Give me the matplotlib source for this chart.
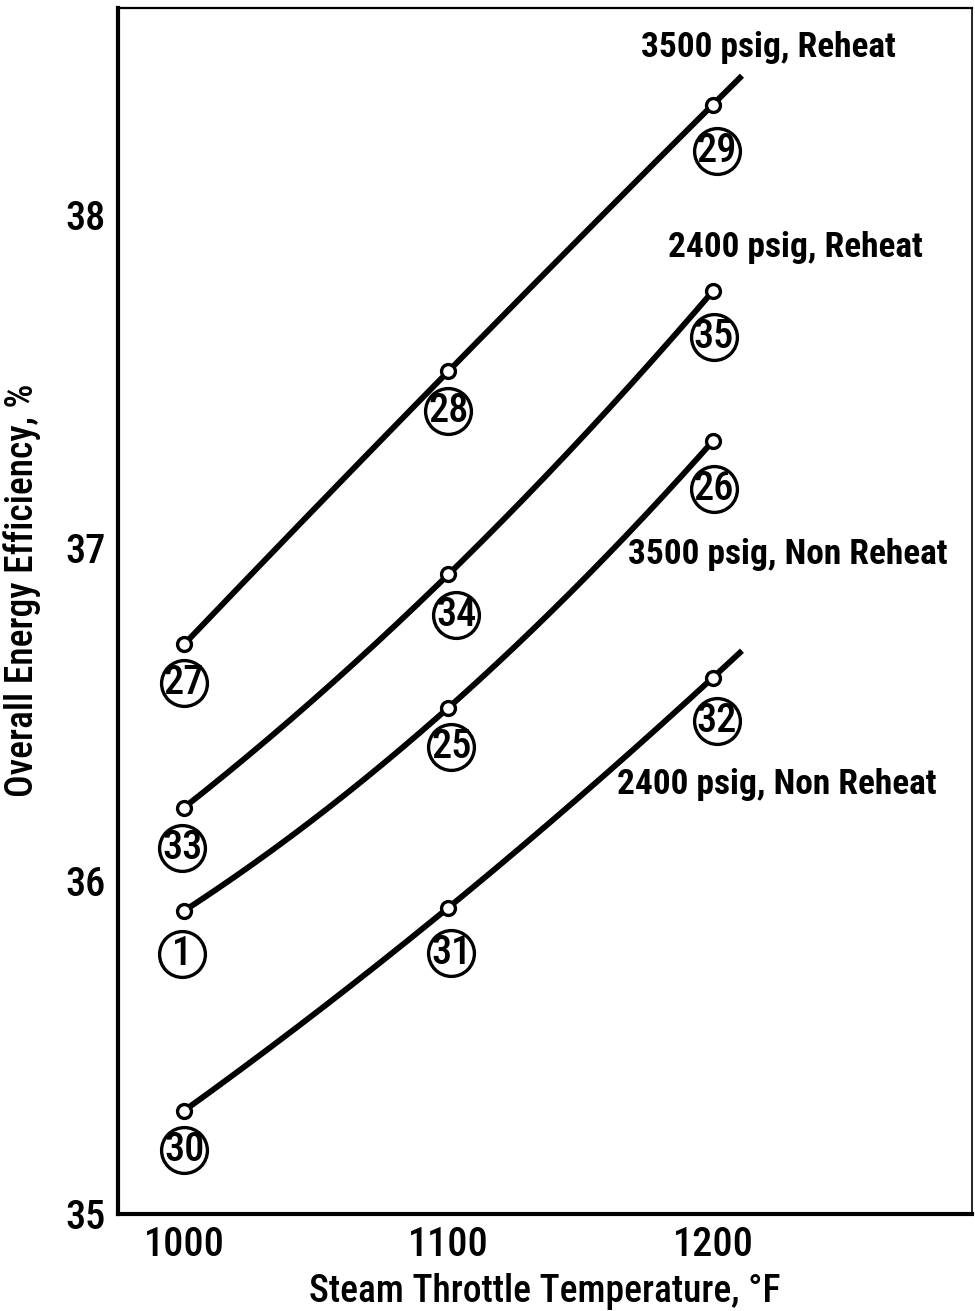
import matplotlib
matplotlib.use("Agg")
import matplotlib.pyplot as plt
from matplotlib import font_manager
from matplotlib.transforms import offset_copy
import numpy as np

# steam throttle temperature, F
temps = [1000, 1100, 1200]

# overall energy efficiency, %
eff_3500_rh = [36.71, 37.53, 38.33]
eff_2400_rh = [36.22, 36.92, 37.77]
eff_3500_nr = [35.91, 36.52, 37.32]
eff_2400_nr = [35.31, 35.92, 36.61]

# case numbers for each point
cases_3500_rh = ['27', '28', '29']
cases_2400_rh = ['33', '34', '35']
cases_3500_nr = ['1', '25', '26']
cases_2400_nr = ['30', '31', '32']

names = ['3500 psig, Reheat', '2400 psig, Reheat',
         '3500 psig, Non Reheat', '2400 psig, Non Reheat']

# how far each faired curve is carried past the last point
curve_end = [1211, 1200, 1200, 1211]

series = [eff_3500_rh, eff_2400_rh, eff_3500_nr, eff_2400_nr]
cases = [cases_3500_rh, cases_2400_rh, cases_3500_nr, cases_2400_nr]


def pick_font():
    # prefer a narrow face; plain DejaVu needs smaller sizes to fit
    for fam in ['Liberation Sans Narrow', 'DejaVu Sans Condensed', 'Roboto Condensed',
                'Open Sans Condensed', 'Noto Sans Condensed']:
        try:
            font_manager.findfont(fam, fallback_to_default=False)
            return fam, 1.0
        except ValueError:
            pass
    return 'DejaVu Sans', 0.8


family, k_size = pick_font()
plt.rcParams['font.family'] = [family, 'DejaVu Sans']

# label anchor (left edge, middle) for each curve name
name_pos = [(1172.8, 38.50), (1183.0, 37.90), (1167.9, 36.98), (1163.7, 36.29)]

# offsets (pixels) of the circled case numbers from their points
case_off = [[(0, -39), (0, -40), (4, -46)],
            [(-2, -40), (8, -41), (1, -46)],
            [(-2, -43), (3, -39), (1, -48)],
            [(0, -39), (3, -45), (4, -43)]]

fig = plt.figure(figsize=(9.75, 13.11), dpi=100)
ax = fig.add_axes([118 / 975, 1 - 1214 / 1311, (972 - 118) / 975, (1214 - 8) / 1311])

for i, y in enumerate(series):
    c = np.polyfit(temps, y, 2)
    xs = np.linspace(temps[0], curve_end[i], 200)
    ax.plot(xs, np.polyval(c, xs), color='black', lw=4.2, solid_capstyle='butt', zorder=2)
    ax.plot(temps, y, 'o', ms=10, mfc='white', mec='black', mew=2.4, zorder=3)
    for j, (t, v) in enumerate(zip(temps, y)):
        dx, dy = case_off[i][j]
        tr = offset_copy(ax.transData, fig=fig, x=dx, y=dy, units='dots')
        ax.plot([t], [v], 'o', ms=33, mfc='white', mec='black', mew=2.4,
                transform=tr, zorder=3)
        ax.text(t, v, cases[i][j], transform=tr, ha='center', va='center',
                fontsize=29 * k_size, fontweight='medium', zorder=4)
    ax.text(name_pos[i][0], name_pos[i][1], names[i], ha='left', va='center',
            fontsize=25.5 * k_size * (0.95 if k_size < 1 else 1), fontweight='semibold')

ax.set_xlim(975, 1298)
ax.set_ylim(35, 38.62)
ax.set_xticks(temps)
ax.set_yticks([35, 36, 37, 38])
ax.tick_params(length=0, labelsize=29 * k_size, pad=9)
for lab in ax.get_xticklabels() + ax.get_yticklabels():
    lab.set_fontweight('medium')

ax.spines['left'].set_linewidth(3.0)
ax.spines['bottom'].set_linewidth(3.0)
ax.spines['top'].set_linewidth(1.6)
ax.spines['right'].set_linewidth(1.2)

ax.set_xlabel('Steam Throttle Temperature, \u00b0F', fontsize=27 * k_size,
              fontweight='medium', labelpad=6)
ax.set_ylabel('Overall Energy Efficiency, %', fontsize=27 * k_size,
              fontweight='medium')
ax.yaxis.set_label_coords(-0.09, 0.517)

fig.savefig('out.png', dpi=100)
